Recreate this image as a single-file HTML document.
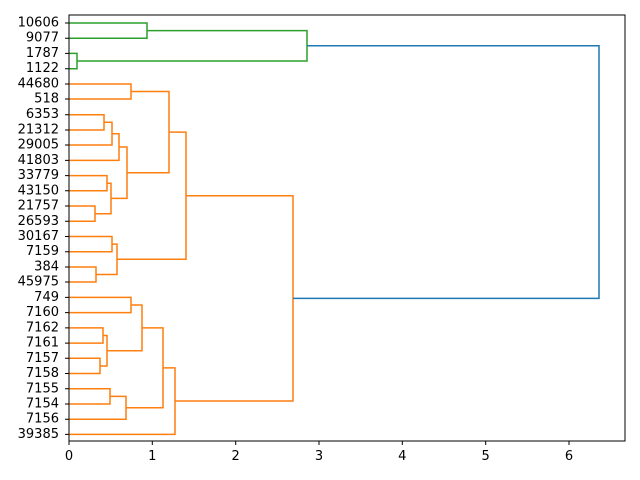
<!DOCTYPE html>
<html><head><style>html,body{margin:0;padding:0;background:#fff}svg{display:block}</style></head><body>
<svg width="640" height="480" xmlns="http://www.w3.org/2000/svg" font-family="DejaVu Sans, sans-serif" font-size="13">
<rect width="640" height="480" fill="#fff"/>
<g fill="none" stroke-width="1.5">
<g stroke="#2ca02c">
<path d="M69 23 H147 V38.2 H69"/>
<path d="M69 53.4 H77 V68.7 H69"/>
<path d="M147 30.6 H307 V61 H77"/>
</g>
<g stroke="#ff7f0e">
<path d="M69 84 H131 V99 H69"/>
<path d="M69 114.7 H104 V130 H69"/>
<path d="M104 122.3 H112 V145 H69"/>
<path d="M112 133.7 H119 V160.4 H69"/>
<path d="M69 175.6 H107 V190.8 H69"/>
<path d="M69 206 H95 V221.3 H69"/>
<path d="M107 183.2 H111 V213.7 H95"/>
<path d="M119 147 H127 V198.4 H111"/>
<path d="M131 91.5 H169 V172.7 H127"/>
<path d="M69 236.5 H112 V251.7 H69"/>
<path d="M69 267 H96 V282 H69"/>
<path d="M112 244.1 H117 V274.5 H96"/>
<path d="M169 132.1 H186 V259.3 H117"/>
<path d="M69 297.4 H131 V312.6 H69"/>
<path d="M69 327.9 H103 V343.1 H69"/>
<path d="M69 358.3 H100 V373.5 H69"/>
<path d="M103 335.5 H107 V366 H100"/>
<path d="M131 305 H142 V350.7 H107"/>
<path d="M69 388.8 H110 V404 H69"/>
<path d="M110 396.4 H126 V419.2 H69"/>
<path d="M142 327.9 H163 V407.8 H126"/>
<path d="M163 367.9 H175 V434.4 H69"/>
<path d="M186 195.7 H293 V401 H175"/>
</g>
<path stroke="#1f77b4" d="M307 45.8 H599 V298.4 H293"/>
</g>
<rect x="69" y="15" width="556" height="426" fill="none" stroke="#000" stroke-width="1"/>
<g stroke="#000" stroke-width="1">
<path d="M69 441v4M152.3 441v4M235.7 441v4M319 441v4M402.3 441v4M485.7 441v4M569 441v4"/>
<path d="M69 23h-4M69 38.2h-4M69 53.4h-4M69 68.7h-4M69 84h-4M69 99h-4M69 114.7h-4M69 130h-4M69 145h-4M69 160.4h-4M69 175.6h-4M69 190.8h-4M69 206h-4M69 221.3h-4M69 236.5h-4M69 251.7h-4M69 267h-4M69 282h-4M69 297.4h-4M69 312.6h-4M69 327.9h-4M69 343.1h-4M69 358.3h-4M69 373.5h-4M69 388.8h-4M69 404h-4M69 419.2h-4M69 434.4h-4"/>
</g>
<g text-anchor="middle" fill="#000">
<text x="69" y="460">0</text><text x="152.3" y="460">1</text><text x="235.7" y="460">2</text><text x="319" y="460">3</text><text x="402.3" y="460">4</text><text x="485.7" y="460">5</text><text x="569" y="460">6</text>
</g>
<g text-anchor="end" fill="#000" dominant-baseline="central">
<text x="59" y="23">10606</text><text x="59" y="38.2">9077</text><text x="59" y="53.4">1787</text><text x="59" y="68.7">1122</text><text x="59" y="84">44680</text><text x="59" y="99">518</text><text x="59" y="114.7">6353</text><text x="59" y="130">21312</text><text x="59" y="145">29005</text><text x="59" y="160.4">41803</text><text x="59" y="175.6">33779</text><text x="59" y="190.8">43150</text><text x="59" y="206">21757</text><text x="59" y="221.3">26593</text><text x="59" y="236.5">30167</text><text x="59" y="251.7">7159</text><text x="59" y="267">384</text><text x="59" y="282">45975</text><text x="59" y="297.4">749</text><text x="59" y="312.6">7160</text><text x="59" y="327.9">7162</text><text x="59" y="343.1">7161</text><text x="59" y="358.3">7157</text><text x="59" y="373.5">7158</text><text x="59" y="388.8">7155</text><text x="59" y="404">7154</text><text x="59" y="419.2">7156</text><text x="59" y="434.4">39385</text>
</g>
</svg>
</body></html>
